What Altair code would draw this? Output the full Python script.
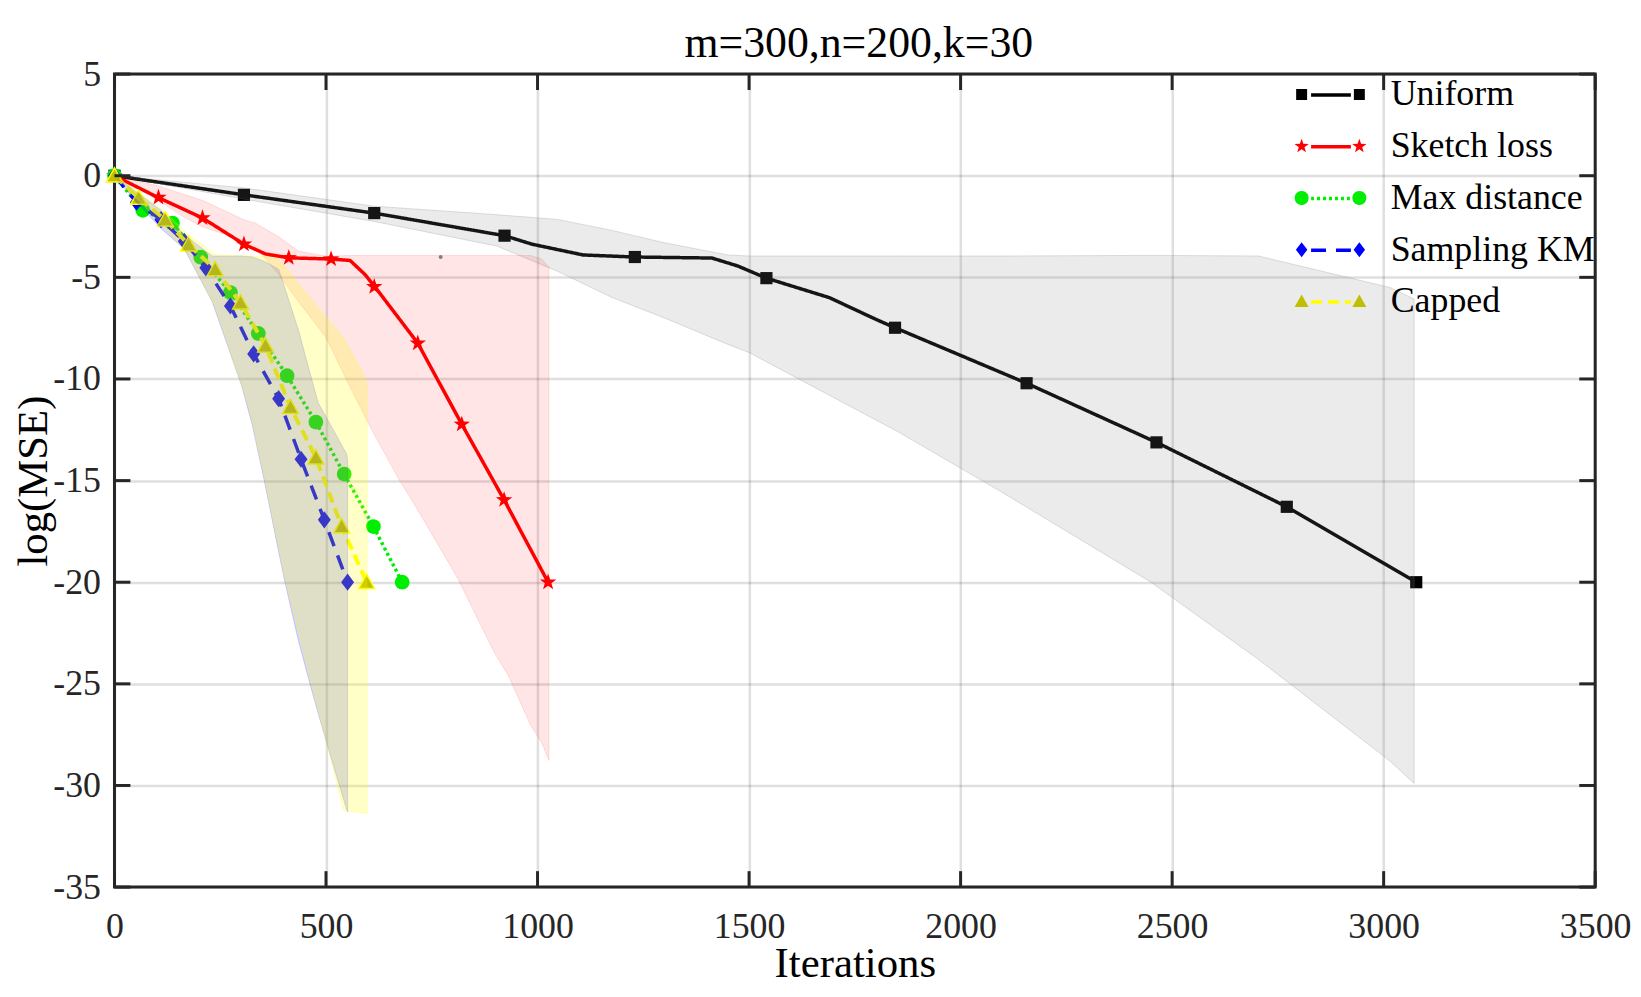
import math
import altair as alt
import pandas as pd

# ---------------- data ----------------
TITLE = ["m=300,n=200,k=30"]
NAMES = ["Uniform", "Sketch loss", "Max distance", "Sampling KM", "Capped"]
CODES = ["u", "s", "m", "k", "c"]

XTICKS = [0, 500, 1000, 1500, 2000, 2500, 3000, 3500]
YTICKS = [5, 0, -5, -10, -15, -20, -25, -30, -35]

# line vertices
uni_x = [0, 306, 614, 922, 987, 1108, 1230, 1412, 1473, 1541, 1690, 1798, 1845, 2156, 2463, 2771, 3077]
uni_y = [0, -0.94, -1.84, -2.95, -3.37, -3.9, -4.0, -4.05, -4.44, -5.04, -6.0, -7.05, -7.48, -10.21, -13.12, -16.29, -20.0]
ske_x = [0, 103, 208, 306, 357, 412, 512, 557, 592, 615, 717, 821, 921, 1025]
ske_y = [0, -1.07, -2.08, -3.37, -3.85, -4.04, -4.1, -4.17, -4.86, -5.45, -8.24, -12.23, -15.95, -20.0]
max_x = [0, 67, 137, 204, 274, 340, 408, 476, 543, 612, 680]
max_y = [0, -1.7, -2.33, -4.01, -5.75, -7.76, -9.84, -12.12, -14.68, -17.26, -20.0]
skm_x = [0, 52, 110, 165, 216, 274, 329, 388, 441, 496, 551]
skm_y = [0, -1.3, -2.16, -3.23, -4.53, -6.41, -8.77, -10.97, -13.95, -16.93, -20.0]
cap_x = [0, 57, 120, 175, 238, 298, 357, 416, 476, 537, 596]
cap_y = [0, -1.1, -2.16, -3.39, -4.61, -6.25, -8.37, -11.39, -13.87, -17.26, -20.0]

# marker positions
uni_mx = [0, 306, 614, 922, 1230, 1541, 1845, 2156, 2463, 2771, 3077]
uni_my = [0, -0.94, -1.84, -2.95, -4.0, -5.04, -7.48, -10.21, -13.12, -16.29, -20.0]
ske_mx = [0, 104, 208, 306, 412, 512, 614, 717, 821, 921, 1025]
ske_my = [0, -1.07, -2.08, -3.37, -4.04, -4.1, -5.46, -8.24, -12.23, -15.95, -20.0]

# shaded bands (upper / lower bounds)
gray_x = [0, 306, 614, 905, 1047, 1176, 1300, 1450, 1500, 1852, 2100, 2450, 2704, 3015, 3072]
gray_hi = [0, -0.6, -1.5, -1.92, -2.15, -2.69, -3.3, -3.9, -3.95, -3.95, -3.95, -3.92, -3.95, -5.5, -6.07]
gray_lo = [0, -1.15, -2.25, -3.47, -4.7, -5.99, -7.0, -8.3, -8.7, -12.6, -15.6, -20.0, -23.8, -28.8, -29.9]

pink_x = [0, 103, 161, 206, 310, 333, 388, 435, 498, 506, 557, 608, 674, 710, 811, 898, 931, 984, 1010, 1027]
pink_hi = [0, -0.5, -0.9, -1.2, -2.2, -2.33, -3.0, -3.71, -3.95, -3.95, -3.93, -3.92, -3.92, -3.92, -3.92, -3.92, -3.92, -3.93, -4.1, -4.5]
pink_lo = [0, -1.2, -2.0, -2.5, -3.23, -3.5, -4.86, -6.2, -7.9, -8.2, -10.4, -12.5, -15.0, -16.2, -19.8, -23.46, -24.6, -27.05, -27.9, -28.77]

yel_x = [0, 57, 120, 175, 240, 318, 353, 388, 404, 466, 514, 541, 545, 592, 597]
yel_hi = [0, -0.8, -1.8, -2.9, -3.9, -3.95, -3.95, -4.1, -4.5, -6.1, -7.3, -7.95, -8.1, -9.9, -10.3]
yel_lo = [0, -1.2, -2.6, -3.9, -6.55, -11.4, -14.7, -18.3, -19.9, -25.1, -28.9, -31.2, -31.25, -31.35, -31.4]

blu_x = [0, 52, 110, 165, 231, 300, 325, 353, 388, 404, 435, 466, 482, 520, 549, 551]
blu_hi = [0, -0.8, -1.7, -2.9, -3.95, -3.95, -3.99, -4.2, -4.6, -5.6, -7.6, -10.0, -11.2, -12.6, -13.7, -14.0]
blu_lo = [0, -1.3, -2.6, -3.6, -6.2, -10.3, -12.2, -14.9, -18.5, -20.1, -22.9, -25.3, -26.5, -29.2, -31.2, -31.3]

dot_x = [771]
dot_y = [-4.0]

# ---------------- styling ----------------
W, H = 1488, 817
FONT = "Liberation Serif"
AX = "#262626"
LINE_COLORS = ["#000000", "#ff0000", "#00ee00", "#0000ff", "#ffff00"]
LINE_DASH = [[1, 0], [1, 0], [3, 3], [15, 10], [11, 6]]
LINE_W = [3.5, 3.5, 3.5, 3.5, 4]
MARK_FILL = ["#000000", "#ff0000", "#00ee00", "#0000ff", "#bfbf00"]


def star(cx, ro, ri):
    pts = []
    for i in range(10):
        a = math.radians(-90 + 36 * i)
        r = ro if i % 2 == 0 else ri
        pts.append((cx + r * math.cos(a), r * math.sin(a)))
    return "M" + "L".join(f"{x:.4f},{y:.4f}" for x, y in pts) + "Z"


def sq(cx, h):
    return f"M{cx-h:.4f},{-h:.4f}H{cx+h:.4f}V{h:.4f}H{cx-h:.4f}Z"


def circ(cx, r):
    return (f"M{cx-r:.4f},0A{r:.4f},{r:.4f} 0 1,0 {cx+r:.4f},0"
            f"A{r:.4f},{r:.4f} 0 1,0 {cx-r:.4f},0Z")


def dia(cx, hx, hy):
    return f"M{cx:.4f},{-hy:.4f}L{cx+hx:.4f},0L{cx:.4f},{hy:.4f}L{cx-hx:.4f},0Z"


def tri(cx, hw, top, bot):
    return f"M{cx:.4f},{-top:.4f}L{cx+hw:.4f},{bot:.4f}L{cx-hw:.4f},{bot:.4f}Z"


# legend symbol paths (unit = 21.5 px)
u = 1 / 21.5
D = 29 * u
LEG_PATHS = [
    sq(-D, 5.5 * u) + sq(D, 5.5 * u),
    star(-D, 7.5 * u, 3 * u) + star(D, 7.5 * u, 3 * u),
    circ(-D, 7 * u) + circ(D, 7 * u),
    dia(-D, 5.75 * u, 7.5 * u) + dia(D, 5.75 * u, 7.5 * u),
    tri(-D, 7 * u, 7 * u, 5.6 * u) + tri(D, 7 * u, 7 * u, 5.6 * u),
]

XAXIS = alt.Axis(title="Iterations", values=XTICKS, grid=True, gridColor=AX, gridOpacity=0.15,
                 gridWidth=2.5, ticks=False, tickSize=0, domain=False, labelFont=FONT,
                 labelFontSize=36, labelColor=AX, labelPadding=23, labelFlush=False,
                 labelOverlap=False, labelExpr="datum.value + ''", titleFont=FONT,
                 titleFontSize=43, titleFontWeight="normal", titleColor="black",
                 titleY=90, titleBaseline="alphabetic")
YAXIS = alt.Axis(title="log(MSE)", values=YTICKS, grid=True, gridColor=AX, gridOpacity=0.15,
                 gridWidth=2.5, ticks=False, tickSize=0, domain=False, labelFont=FONT,
                 labelFontSize=36, labelColor=AX, labelPadding=14, labelFlush=False,
                 labelOverlap=False, labelExpr="datum.value + ''", titleFont=FONT,
                 titleFontSize=43, titleFontWeight="normal", titleColor="black",
                 titleX=-68, titleBaseline="alphabetic")


def X(f):
    return alt.X(f, type="quantitative", scale=alt.Scale(domain=[0, 3500], nice=False, zero=False), axis=XAXIS)


def Y(f):
    return alt.Y(f, type="quantitative", scale=alt.Scale(domain=[-35, 5], nice=False, zero=False), axis=YAXIS)


LEG_X, LEG_Y = 1200.5, -1
LEG_B = alt.Legend(orient="none", legendX=LEG_X, legendY=LEG_Y, title=None, symbolType="stroke",
                   symbolSize=1600, symbolStrokeWidth=3.5, labelExpr="''", labelFont=FONT,
                   labelFontSize=36, rowPadding=12, padding=0, symbolOffset=0, labelOffset=39)
LEG_A = alt.Legend(orient="none", legendX=LEG_X, legendY=LEG_Y, title=None, symbolSize=1849,
                   symbolStrokeWidth=0, symbolOpacity=1, labelFont=FONT, labelFontSize=36,
                   labelColor="black", rowPadding=12, padding=0, symbolOffset=0, labelOffset=39,
                   labelLimit=500)

line_sets = [(uni_x, uni_y), (ske_x, ske_y), (max_x, max_y), (skm_x, skm_y), (cap_x, cap_y)]
mark_sets = [(uni_mx, uni_my), (ske_mx, ske_my), (max_x, max_y), (skm_x, skm_y), (cap_x, cap_y)]
mark_style = [
    dict(shape="square", size=150, fill=MARK_FILL[0], strokeWidth=0),
    dict(shape=star(0, 1, 0.4), size=300, fill=MARK_FILL[1], strokeWidth=0),
    dict(shape="circle", size=220, fill=MARK_FILL[2], strokeWidth=0),
    dict(shape=dia(0, 0.75, 1), size=300, fill=MARK_FILL[3], strokeWidth=0),
    dict(shape=tri(0, 1, 1, 0.8), size=250, fill=MARK_FILL[4], stroke="#ffff00", strokeWidth=1.5),
]

layers = []
for i in range(5):
    lx, ly = line_sets[i]
    ldf = pd.DataFrame({"it": lx, "val": ly, "code": CODES[i]})
    layers.append(
        alt.Chart(ldf).mark_line(strokeWidth=LINE_W[i], strokeJoin="round").encode(
            x=X("it"), y=Y("val"),
            stroke=alt.Stroke("code:N", scale=alt.Scale(domain=CODES, range=LINE_COLORS), legend=LEG_B),
            strokeDash=alt.StrokeDash("code:N", scale=alt.Scale(domain=CODES, range=LINE_DASH), legend=LEG_B),
        )
    )
    mx, my = mark_sets[i]
    mdf = pd.DataFrame({"it": mx, "val": my})
    layers.append(
        alt.Chart(mdf).mark_point(filled=True, opacity=1, **mark_style[i]).encode(x=X("it"), y=Y("val"))
    )

bands = [
    (gray_x, gray_hi, gray_lo, "#808080", 0.16, 0.25),
    (pink_x, pink_hi, pink_lo, "#ff0000", 0.10, 0.12),
    (blu_x, blu_hi, blu_lo, "#0000ff", 0.16, 0.16),
    (yel_x, yel_hi, yel_lo, "#ffff00", 0.22, 0.25),
]
for bx, bh, bl, col, fo, so in bands:
    bdf = pd.DataFrame({"it": bx, "hi": bh, "lo": bl})
    layers.append(
        alt.Chart(bdf).mark_area(fill=col, fillOpacity=fo, stroke=col, strokeOpacity=so, strokeWidth=1).encode(
            x=X("it"), y=Y("hi"), y2=alt.Y2("lo")
        )
    )

layers.append(
    alt.Chart(pd.DataFrame({"it": dot_x, "val": dot_y})).mark_point(
        filled=True, shape="circle", size=16, fill="#808080", strokeWidth=0, opacity=1
    ).encode(x=X("it"), y=Y("val"))
)

# inward ticks on all four sides
xt = pd.DataFrame({"t": XTICKS})
yt = pd.DataFrame({"t": YTICKS})
TK = 16
layers += [
    alt.Chart(xt).mark_rule(color=AX, strokeWidth=3).encode(x=X("t"), y=alt.value(H), y2=alt.value(H - TK)),
    alt.Chart(xt).mark_rule(color=AX, strokeWidth=3).encode(x=X("t"), y=alt.value(0), y2=alt.value(TK)),
    alt.Chart(yt).mark_rule(color=AX, strokeWidth=3).encode(y=Y("t"), x=alt.value(0), x2=alt.value(TK)),
    alt.Chart(yt).mark_rule(color=AX, strokeWidth=3).encode(y=Y("t"), x=alt.value(W), x2=alt.value(W - TK)),
]

# chart title as a text mark just above the frame
layers.append(
    alt.Chart(pd.DataFrame({"t": TITLE})).mark_text(
        font=FONT, fontSize=44, color="black", align="center", baseline="alphabetic"
    ).encode(text="t:N", x=alt.value(W / 2 + 4), y=alt.value(-17))
)

# legend carrier (marker glyphs), draws nothing itself
layers.append(
    alt.Chart(pd.DataFrame({"name": NAMES})).transform_filter("false").mark_point(filled=True).encode(
        fill=alt.Fill("name:N", scale=alt.Scale(domain=NAMES, range=MARK_FILL), legend=LEG_A),
        shape=alt.Shape("name:N", scale=alt.Scale(domain=NAMES, range=LEG_PATHS), legend=LEG_A),
    )
)

chart = alt.layer(*layers).properties(
    width=W, height=H,
    autosize=alt.AutoSizeParams(type="none"),
    padding={"left": 107, "top": 64, "right": 38, "bottom": 100},
    background="white",
).configure_view(stroke=AX, strokeWidth=3)

chart.save("out.html", embed_options={"renderer": "svg", "actions": False})
